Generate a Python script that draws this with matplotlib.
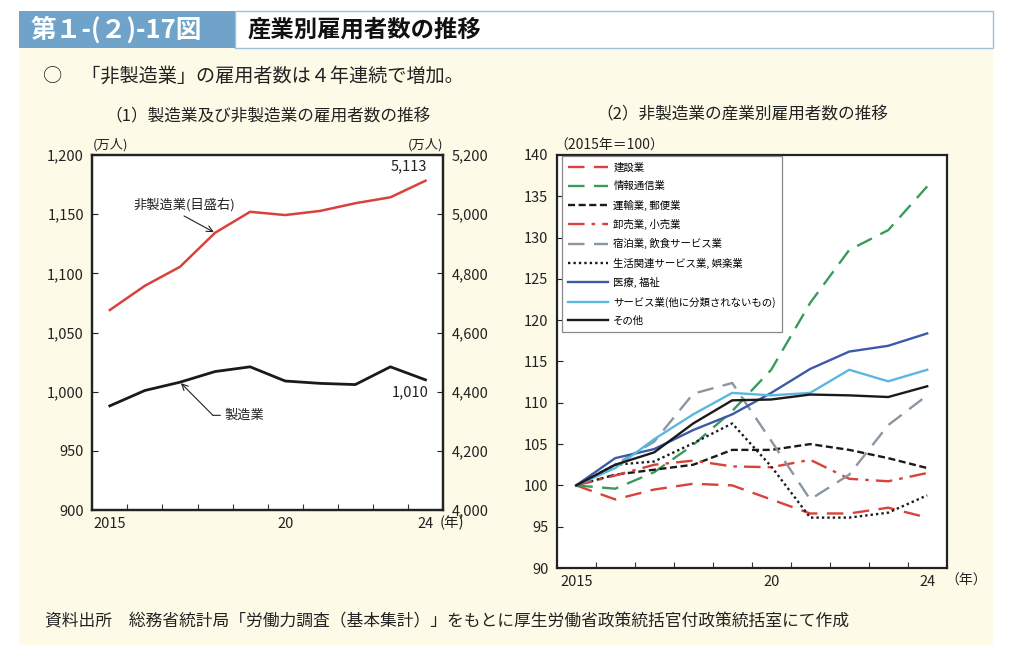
import matplotlib
matplotlib.use("Agg")
import matplotlib.pyplot as plt
from matplotlib.patches import Rectangle
from matplotlib.ticker import FuncFormatter, FixedLocator

plt.rcParams['font.family'] = ['Noto Sans CJK JP', 'DejaVu Sans']

# ---------------- data ----------------
years = [2015, 2016, 2017, 2018, 2019, 2020, 2021, 2022, 2023, 2024]
year_labels = ["2015", "", "", "", "", "20", "", "", "", "24"]

manufacturing = [988, 1001, 1008, 1017, 1021, 1009, 1007, 1006, 1021, 1010]
non_manufacturing = [4676, 4758, 4822, 4937, 5008, 4997, 5011, 5037, 5057, 5113]

series_names = [
    "建設業", "情報通信業", "運輸業, 郵便業", "卸売業, 小売業",
    "宿泊業, 飲食サービス業", "生活関連サービス業, 娯楽業", "医療, 福祉",
    "サービス業(他に分類されないもの)", "その他",
]
construction = [100, 98.3, 99.5, 100.2, 100.0, 98.3, 96.6, 96.6, 97.3, 96.1]
info_comm = [100, 99.6, 101.6, 104.9, 109.0, 114.0, 122.1, 128.5, 130.9, 136.2]
transport = [100, 101.3, 101.9, 102.5, 104.3, 104.3, 105.0, 104.3, 103.3, 102.1]
wholesale = [100, 101.2, 102.5, 103.0, 102.3, 102.2, 103.1, 100.8, 100.5, 101.5]
accommodation = [100, 102.5, 105.3, 111.1, 112.4, 105.4, 98.3, 101.3, 107.3, 110.9]
living_services = [100, 102.5, 102.9, 105.1, 107.5, 102.3, 96.1, 96.1, 96.7, 98.8]
medical = [100, 103.3, 104.4, 106.7, 108.6, 111.2, 114.1, 116.2, 116.9, 118.4]
services_other = [100, 102.1, 105.6, 108.6, 111.2, 110.9, 111.2, 114.0, 112.6, 114.0]
others = [100, 102.5, 104.0, 107.5, 110.3, 110.4, 111.0, 110.9, 110.7, 112.0]

# ---------------- figure ----------------
W, H = 1024, 667
fig = plt.figure(figsize=(W / 100, H / 100), dpi=100, facecolor="white")

def fx(px):
    return px / W

def fy(py):
    return 1 - py / H

# backgrounds
fig.patches.append(Rectangle((fx(19), fy(645)), fx(993 - 19), (645 - 47) / H,
                             transform=fig.transFigure, facecolor="#fdfbe7",
                             edgecolor="none", zorder=-10))
fig.patches.append(Rectangle((fx(19), fy(47.5)), fx(235 - 19), (47.5 - 11) / H,
                             transform=fig.transFigure, facecolor="#6fa3c9",
                             edgecolor="none", zorder=-5))
fig.patches.append(Rectangle((fx(235), fy(47.5)), fx(993 - 235), (47.5 - 11) / H,
                             transform=fig.transFigure, facecolor="white",
                             edgecolor="#9cc0dc", linewidth=1.0, zorder=-5))

fig.text(fx(31), fy(30), "第１-(２)-17図", color="white", fontsize=18.5,
         fontweight="bold", va="center", ha="left")
fig.text(fx(248), fy(30), "産業別雇用者数の推移", color="#111111", fontsize=16.8,
         fontweight="bold", va="center", ha="left")
fig.text(fx(43), fy(76), "○　「非製造業」の雇用者数は４年連続で増加。", color="#222222",
         fontsize=13.8, va="center", ha="left")
fig.text(fx(105), fy(117), "（1）製造業及び非製造業の雇用者数の推移", color="#222222",
         fontsize=12, va="center", ha="left")
fig.text(fx(596), fy(115), "（2）非製造業の産業別雇用者数の推移", color="#222222",
         fontsize=12, va="center", ha="left")
fig.text(fx(45), fy(622), "資料出所　総務省統計局「労働力調査（基本集計）」をもとに厚生労働省政策統括官付政策統括室にて作成",
         color="#222222", fontsize=12.1, va="center", ha="left")

x = list(range(len(years)))
comma = FuncFormatter(lambda v, p: f"{v:,.0f}")

# ---------------- left chart ----------------
axL = fig.add_axes([fx(92.3), fy(510), fx(443 - 92.3), (510 - 155) / H])
axL.set_facecolor("white")
axR = axL.twinx()
axL.plot(x, manufacturing, color="#1a1a1a", lw=2.0, zorder=3)
axR.plot(x, non_manufacturing, color="#d8423a", lw=1.8, zorder=3)
axL.set_xlim(-0.5, 9.5)
axL.set_ylim(900, 1200)
axR.set_ylim(4000, 5200)
axL.set_yticks([900, 950, 1000, 1050, 1100, 1150, 1200])
axR.set_yticks([4000, 4200, 4400, 4600, 4800, 5000, 5200])
axL.yaxis.set_major_formatter(comma)
axR.yaxis.set_major_formatter(comma)
axL.xaxis.set_major_locator(FixedLocator([i + 0.5 for i in range(9)]))
axL.xaxis.set_minor_locator(FixedLocator(x))
axL.set_xticklabels([""] * 9)
axL.set_xticklabels(year_labels, minor=True)
axL.tick_params(axis="x", which="minor", length=0, labelsize=10.5, pad=5, colors="#222222")
axL.tick_params(axis="x", which="major", direction="in", length=4, width=0.8, color="#333333")
axL.tick_params(axis="y", direction="in", length=4, width=0.8, labelsize=10.5, colors="#222222", pad=6)
axR.tick_params(axis="y", direction="in", length=4, width=0.8, labelsize=10.5, colors="#222222", pad=6)
for a in (axL, axR):
    for s in a.spines.values():
        s.set_linewidth(1.6)
        s.set_color("#222222")

axL.text(0.0, 1.01, "(万人)", transform=axL.transAxes, fontsize=9.5, ha="left", va="bottom", color="#222222")
axL.text(1.0, 1.01, "(万人)", transform=axL.transAxes, fontsize=9.5, ha="right", va="bottom", color="#222222")
axL.text(0.99, -0.037, "(年)", transform=axL.transAxes, fontsize=10.5, ha="left", va="center", color="#222222")
axR.text(9.05, non_manufacturing[-1] + 25, f"{non_manufacturing[-1]:,}", fontsize=10.5,
         ha="right", va="bottom", color="#222222")
axL.text(9.1, manufacturing[-1] - 5, f"{manufacturing[-1]:,}", fontsize=10.5,
         ha="right", va="top", color="#222222")

# annotation: non-manufacturing (right scale)
axR.text(2.115, 5031, "非製造業(目盛右)", fontsize=9.5, ha="center", va="center", color="#222222")
axR.annotate("", xy=(3, non_manufacturing[3]), xytext=(2.115, 4994),
             arrowprops=dict(arrowstyle="->", color="#222222", lw=0.8,
                             shrinkA=0, shrinkB=1, mutation_scale=11))
# annotation: manufacturing
axL.annotate("", xy=(2, manufacturing[2]), xytext=(2.94, 980),
             arrowprops=dict(arrowstyle="->", color="#222222", lw=0.8,
                             shrinkA=0, shrinkB=1, mutation_scale=11))
axL.annotate("製造業", xy=(2.94, 980), xytext=(3.27, 980),
             fontsize=9.5, ha="left", va="center", color="#222222",
             arrowprops=dict(arrowstyle="-", color="#222222", lw=0.8,
                             shrinkA=1, shrinkB=0))

# ---------------- right chart ----------------
ax2 = fig.add_axes([fx(556.7), fy(568), fx(946.7 - 556.7), (568 - 155) / H])
ax2.set_facecolor("white")
styles = [
    (construction, "#d8423a", (0, (7, 4))),
    (info_comm, "#3a9a5e", (0, (7, 4))),
    (transport, "#1a1a1a", (0, (3, 1.5))),
    (wholesale, "#d8423a", (0, (7, 3, 1.5, 3))),
    (accommodation, "#8a96a2", (0, (7, 4))),
    (living_services, "#1a1a1a", (0, (1, 1.3))),
    (medical, "#3b5ba8", "-"),
    (services_other, "#5bb7df", "-"),
    (others, "#1a1a1a", "-"),
]
for (vals, col, ls), name in zip(styles, series_names):
    ax2.plot(x, vals, color=col, linestyle=ls, lw=1.7, label=name)
ax2.set_xlim(-0.5, 9.5)
ax2.set_ylim(90, 140)
ax2.set_yticks(range(90, 141, 5))
ax2.xaxis.set_major_locator(FixedLocator([i + 0.5 for i in range(9)]))
ax2.xaxis.set_minor_locator(FixedLocator(x))
ax2.set_xticklabels([""] * 9)
ax2.set_xticklabels(year_labels, minor=True)
ax2.tick_params(axis="x", which="minor", length=0, labelsize=10.5, pad=5, colors="#222222")
ax2.tick_params(axis="x", which="major", direction="in", length=4, width=0.8, color="#333333")
ax2.tick_params(axis="y", direction="in", length=4, width=0.8, labelsize=10.5, colors="#222222", pad=6)
for s in ax2.spines.values():
    s.set_linewidth(1.6)
    s.set_color("#222222")
ax2.text(-0.005, 1.006, "（2015年＝100）", transform=ax2.transAxes, fontsize=10,
         ha="left", va="bottom", color="#222222")
ax2.text(0.996, -0.03, "（年）", transform=ax2.transAxes, fontsize=10, ha="left", va="center", color="#222222")
leg = ax2.legend(loc="upper left", bbox_to_anchor=(0.014, 0.997), fontsize=7.5,
                 handlelength=3.8, handletextpad=0.5, labelspacing=0.8,
                 borderpad=0.6, borderaxespad=0.0,
                 fancybox=False, framealpha=1, edgecolor="#888888")
leg.get_frame().set_linewidth(0.9)

fig.savefig("out.png", dpi=100, facecolor="white")
